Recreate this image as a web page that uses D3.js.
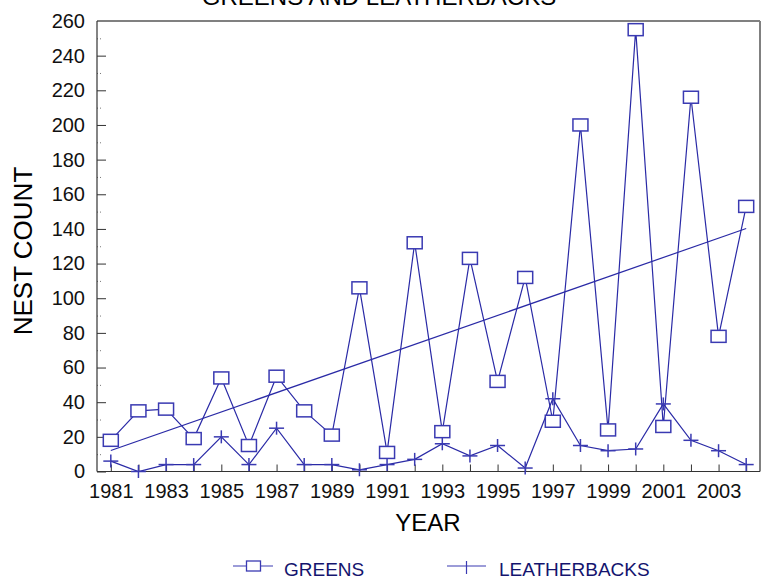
<!DOCTYPE html>
<html>
<head>
<meta charset="utf-8">
<script src="https://cdn.jsdelivr.net/npm/d3@7"></script>
<style>
  html, body { margin: 0; padding: 0; background: #fff; }
  svg { display: block; font-family: "Liberation Sans", Arial, sans-serif; }
</style>
</head>
<body>
<svg id="chart" width="763" height="580"></svg>
<script>
// ---- data ----
const years = d3.range(1981, 2005);
const greens = [18, 35, 36, 19, 54, 15, 55, 35, 21, 106, 11, 132, 23, 123, 52, 112, 29, 200, 24, 255, 26, 216, 78, 153];
const leatherbacks = [6, 0, 4, 4, 20, 4, 25, 4, 4, 1, 4, 7, 16, 9, 15, 2, 42, 15, 12, 13, 39, 18, 12, 4];
const yTicks = d3.range(0, 261, 20);
const yMinorTicks = d3.range(10, 260, 20);
const xLabelYears = d3.range(1981, 2004, 2);
const titleText = "GREENS AND LEATHERBACKS";
const seriesNames = ["GREENS", "LEATHERBACKS"];

// ---- layout ----
const plotL = 97, plotR = 760, plotT = 21, plotB = 471.5;
const lineColor = "#2a2aa6";
const markColor = "#3a3ab2";

const svg = d3.select("#chart");
const x = d3.scaleLinear().domain([1980.5, 2004.5]).range([plotL, plotR]);
const y = d3.scaleLinear().domain([0, 260]).range([plotB, plotT]);

// title (partially cut off at top)
svg.append("text")
  .attr("x", 379).attr("y", 5)
  .attr("text-anchor", "middle")
  .attr("font-size", 24)
  .attr("fill", "#000")
  .text(titleText);

// y axis major
const yAxis = svg.append("g")
  .attr("transform", `translate(${plotL},0)`)
  .call(d3.axisLeft(y).tickValues(yTicks).tickSize(-9).tickPadding(12));
yAxis.select(".domain").remove();
yAxis.selectAll(".tick line").attr("stroke", "#333");
yAxis.selectAll(".tick text").attr("font-size", 20).attr("fill", "#111")
  .attr("font-family", "Liberation Sans, Arial, sans-serif");

// y axis minor
const yMinor = svg.append("g")
  .attr("transform", `translate(${plotL},0)`)
  .call(d3.axisLeft(y).tickValues(yMinorTicks).tickSize(-5).tickFormat(""));
yMinor.select(".domain").remove();
yMinor.selectAll(".tick line").attr("stroke", "#777").attr("stroke-dasharray", "1,2");

// x axis
const xAxis = svg.append("g")
  .attr("transform", `translate(0,${plotB})`)
  .call(d3.axisBottom(x).tickValues(years).tickSize(-7).tickPadding(12)
    .tickFormat(d => xLabelYears.includes(d) ? String(d) : ""));
xAxis.select(".domain").remove();
xAxis.selectAll(".tick line").attr("stroke", "#333");
xAxis.selectAll(".tick text").attr("font-size", 20).attr("fill", "#111")
  .attr("font-family", "Liberation Sans, Arial, sans-serif");

// frame
svg.append("line").attr("x1", plotL).attr("x2", plotR).attr("y1", plotT).attr("y2", plotT)
  .attr("stroke", "#808080").attr("stroke-width", 2);
svg.append("line").attr("x1", plotR).attr("x2", plotR).attr("y1", plotT).attr("y2", plotB)
  .attr("stroke", "#808080").attr("stroke-width", 2);
svg.append("line").attr("x1", plotL).attr("x2", plotL).attr("y1", plotT).attr("y2", plotB)
  .attr("stroke", "#333").attr("stroke-width", 1.2);
svg.append("line").attr("x1", plotL).attr("x2", plotR).attr("y1", plotB).attr("y2", plotB)
  .attr("stroke", "#333").attr("stroke-width", 1.2);

// axis titles
svg.append("text")
  .attr("x", 428).attr("y", 531)
  .attr("text-anchor", "middle").attr("font-size", 24).attr("fill", "#000")
  .text("YEAR");
svg.append("text")
  .attr("transform", "translate(32,251) rotate(-90)")
  .attr("text-anchor", "middle").attr("font-size", 26).attr("fill", "#000")
  .text("NEST COUNT");

// regression trend for greens
const mx = d3.mean(years), my = d3.mean(greens);
const slope = d3.sum(years, (yr, i) => (yr - mx) * (greens[i] - my)) / d3.sum(years, yr => (yr - mx) ** 2);
const intercept = my - slope * mx;
const trend = [years[0], years[years.length - 1]].map(yr => [yr, intercept + slope * yr]);

const line = d3.line().x(d => x(d[0])).y(d => y(d[1]));
svg.append("path").datum(trend).attr("d", line)
  .attr("fill", "none").attr("stroke", lineColor).attr("stroke-width", 1.2);

const gData = years.map((yr, i) => [yr, greens[i]]);
const lData = years.map((yr, i) => [yr, leatherbacks[i]]);

svg.append("path").datum(gData).attr("d", line)
  .attr("fill", "none").attr("stroke", lineColor).attr("stroke-width", 1.2);
svg.append("path").datum(lData).attr("d", line)
  .attr("fill", "none").attr("stroke", lineColor).attr("stroke-width", 1.2);

// square markers
svg.append("g").selectAll("rect").data(gData).join("rect")
  .attr("x", d => x(d[0]) - 7.5).attr("y", d => y(d[1]) - 6)
  .attr("width", 15).attr("height", 12)
  .attr("fill", "#fff").attr("stroke", markColor).attr("stroke-width", 1.5);

// cross markers
const crosses = svg.append("g").selectAll("g").data(lData).join("g")
  .attr("transform", d => `translate(${x(d[0])},${y(d[1])})`);
crosses.append("line").attr("x1", -7.5).attr("x2", 7.5).attr("y1", 0).attr("y2", 0)
  .attr("stroke", markColor).attr("stroke-width", 1.5);
crosses.append("line").attr("x1", 0).attr("x2", 0).attr("y1", -6.5).attr("y2", 6.5)
  .attr("stroke", markColor).attr("stroke-width", 1.5);

// legend
const legY = 566;
const leg = svg.append("g");
leg.append("line").attr("x1", 233).attr("x2", 273).attr("y1", legY).attr("y2", legY)
  .attr("stroke", markColor).attr("stroke-width", 1.2);
leg.append("rect").attr("x", 246.5).attr("y", legY - 5).attr("width", 14).attr("height", 10)
  .attr("fill", "#fff").attr("stroke", markColor).attr("stroke-width", 1.3);
leg.append("text").attr("x", 284).attr("y", 576).attr("font-size", 19).attr("fill", "#14146e")
  .text(seriesNames[0]);

leg.append("line").attr("x1", 447).attr("x2", 486).attr("y1", legY).attr("y2", legY)
  .attr("stroke", markColor).attr("stroke-width", 1.2);
leg.append("line").attr("x1", 466.5).attr("x2", 466.5).attr("y1", legY - 5).attr("y2", legY + 8)
  .attr("stroke", markColor).attr("stroke-width", 1.2);
leg.append("text").attr("x", 499).attr("y", 576).attr("font-size", 19).attr("fill", "#14146e")
  .text(seriesNames[1]);
</script>
</body>
</html>
